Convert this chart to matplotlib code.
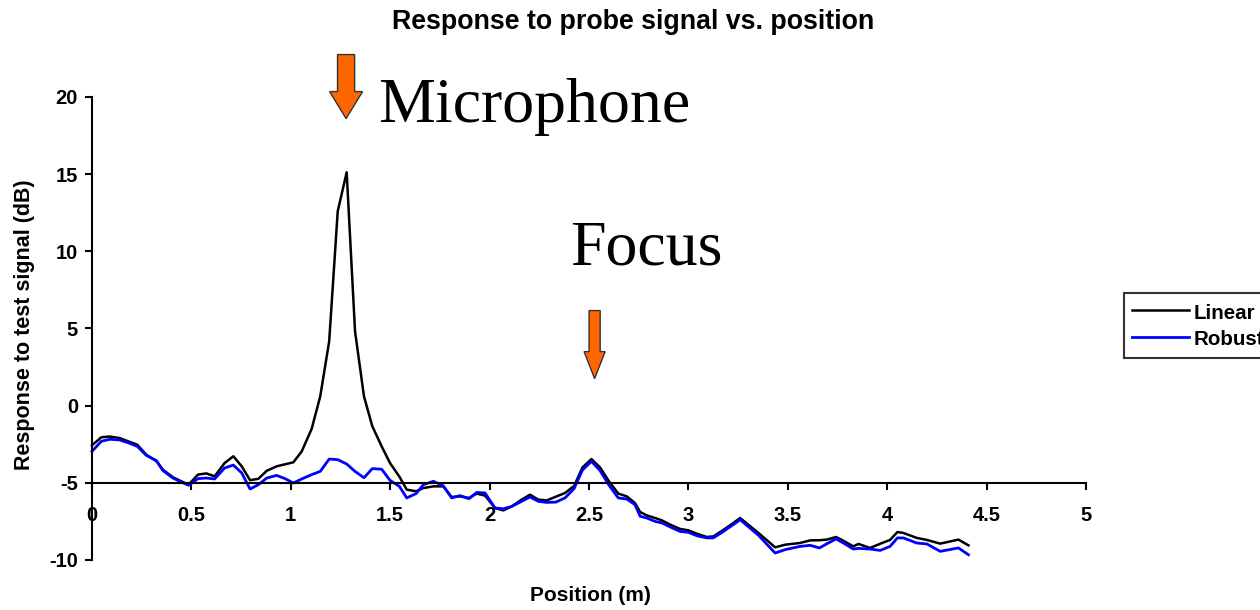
import matplotlib
matplotlib.use("Agg")
import matplotlib.pyplot as plt
from matplotlib.patches import Polygon

# ---- data ----
position = [0.0, 0.047, 0.089, 0.139, 0.19, 0.228, 0.273, 0.324, 0.357, 0.407,
            0.449, 0.486, 0.533, 0.575, 0.617, 0.667, 0.711, 0.753, 0.795, 0.837,
            0.879, 0.929, 0.971, 1.013, 1.055, 1.105, 1.148, 1.193, 1.236, 1.281,
            1.323, 1.368, 1.41, 1.457, 1.499, 1.546, 1.583, 1.63, 1.667, 1.717,
            1.767, 1.809, 1.851, 1.896, 1.935, 1.977, 2.027, 2.069, 2.111, 2.161,
            2.203, 2.245, 2.287, 2.333, 2.379, 2.425, 2.467, 2.512, 2.555, 2.6,
            2.647, 2.69, 2.731, 2.757, 2.79, 2.832, 2.866, 2.908, 2.958, 3.0,
            3.042, 3.092, 3.125, 3.17, 3.215, 3.26, 3.352, 3.436, 3.486, 3.561,
            3.612, 3.659, 3.696, 3.742, 3.779, 3.829, 3.855, 3.913, 3.964, 4.014,
            4.051, 4.081, 4.148, 4.199, 4.266, 4.358, 4.408]

linear = [-2.57, -2.05, -2.0, -2.1, -2.35, -2.53, -3.18, -3.6, -4.15, -4.64,
          -4.9, -5.12, -4.47, -4.39, -4.58, -3.72, -3.28, -3.93, -4.83, -4.74,
          -4.22, -3.93, -3.8, -3.67, -2.96, -1.5, 0.6, 4.17, 12.6, 15.12,
          4.82, 0.6, -1.34, -2.64, -3.72, -4.6, -5.44, -5.55, -5.34, -5.23,
          -5.23, -5.92, -5.88, -5.98, -5.7, -5.83, -6.63, -6.79, -6.53, -6.09,
          -5.77, -6.09, -6.14, -5.9, -5.66, -5.2, -4.0, -3.46, -4.0, -4.9,
          -5.7, -5.88, -6.31, -6.89, -7.11, -7.28, -7.43, -7.71, -7.99, -8.08,
          -8.3, -8.51, -8.47, -8.1, -7.7, -7.28, -8.25, -9.18, -9.01, -8.9,
          -8.73, -8.72, -8.68, -8.51, -8.75, -9.12, -8.96, -9.22, -8.95, -8.7,
          -8.19, -8.25, -8.57, -8.7, -8.94, -8.68, -9.05]

robust = [-2.96, -2.31, -2.18, -2.22, -2.44, -2.64, -3.22, -3.56, -4.21, -4.69,
          -4.95, -5.16, -4.73, -4.69, -4.75, -4.04, -3.85, -4.36, -5.4, -5.12,
          -4.69, -4.52, -4.73, -5.01, -4.75, -4.47, -4.26, -3.46, -3.5, -3.78,
          -4.26, -4.67, -4.08, -4.12, -4.84, -5.23, -5.98, -5.7, -5.12, -4.9,
          -5.2, -5.98, -5.83, -6.03, -5.62, -5.66, -6.63, -6.68, -6.53, -6.2,
          -5.92, -6.2, -6.27, -6.25, -5.98, -5.37, -4.17, -3.61, -4.2, -5.15,
          -5.98, -6.05, -6.42, -7.17, -7.28, -7.5, -7.6, -7.86, -8.15, -8.21,
          -8.43, -8.57, -8.57, -8.2, -7.8, -7.39, -8.4, -9.55, -9.33, -9.12,
          -9.05, -9.22, -8.95, -8.64, -8.9, -9.29, -9.25, -9.29, -9.38, -9.12,
          -8.57, -8.57, -8.9, -8.96, -9.44, -9.22, -9.66]

series_names = ["Linear", "Robust"]
x_ticks = [0, 0.5, 1, 1.5, 2, 2.5, 3, 3.5, 4, 4.5, 5]
x_tick_labels = ["0", "0.5", "1", "1.5", "2", "2.5", "3", "3.5", "4", "4.5", "5"]
y_ticks = [-10, -5, 0, 5, 10, 15, 20]
y_tick_labels = ["-10", "-5", "0", "5", "10", "15", "20"]

# ---- figure ----
plt.rcParams['font.family'] = ['Liberation Sans', 'DejaVu Sans']
fig = plt.figure(figsize=(12.6, 6.1), dpi=100)
ax = fig.add_axes([0.073, 0.082, 0.789, 0.759])

ax.plot(position, linear, color='black', lw=1.8, label=series_names[0], clip_on=False)
ax.plot(position, robust, color='#0000FF', lw=2.0, label=series_names[1], clip_on=False)

ax.set_xlim(0, 5)
ax.set_ylim(-10, 20)
ax.spines['top'].set_visible(False)
ax.spines['right'].set_visible(False)
ax.spines['bottom'].set_position(('data', -5))
ax.spines['left'].set_position(('data', 0))
for s in ('left', 'bottom'):
    ax.spines[s].set_linewidth(1.5)

ax.set_xticks(x_ticks)
ax.set_xticklabels(x_tick_labels, fontsize=14.5, fontweight='bold')
ax.set_yticks(y_ticks)
ax.set_yticklabels(y_tick_labels, fontsize=14.5, fontweight='bold')
ax.tick_params(axis='x', direction='out', length=5, width=1.5, pad=12)
ax.tick_params(axis='y', direction='out', length=5, width=1.5, pad=5)

ax.set_xlabel("Position (m)", fontsize=15, fontweight='bold')
ax.xaxis.set_label_coords(0.501, -0.056)
ax.set_ylabel("Response to test signal (dB)", fontsize=15.5, fontweight='bold')
ax.yaxis.set_label_coords(-0.057, 0.508)

fig.text(633 / 1260, 1 - 22 / 610, "Response to probe signal vs. position",
         ha='center', va='center', fontsize=19.3, fontweight='bold')

# annotations
fig.text(378 / 1260, 1 - 122 / 610, "Microphone", family='Liberation Serif',
         fontsize=46, ha='left', va='baseline')
fig.text(570 / 1260, 1 - 265 / 610, "Focus", family='Liberation Serif',
         fontsize=46, ha='left', va='baseline')

def arrow(xc, top, shaft_bottom, tip, half_shaft, half_head):
    pts = [(xc - half_shaft, top), (xc + half_shaft, top),
           (xc + half_shaft, shaft_bottom), (xc + half_head, shaft_bottom),
           (xc, tip), (xc - half_head, shaft_bottom),
           (xc - half_shaft, shaft_bottom)]
    ax.add_patch(Polygon(pts, closed=True, facecolor='#FF6600',
                         edgecolor='#333333', lw=1.0, clip_on=False, zorder=5))

arrow(1.278, 22.75, 20.35, 18.6, 0.043, 0.083)
arrow(2.528, 6.16, 3.5, 1.75, 0.028, 0.053)

leg = fig.legend(loc='upper left', bbox_to_anchor=(1124 / 1260, 1 - 293 / 610),
                 prop={'weight': 'bold', 'size': 14.8}, frameon=True, fancybox=False,
                 handlelength=2.75, handleheight=1.2, handletextpad=0.25,
                 borderpad=0.4, labelspacing=0.25, borderaxespad=0)
leg.get_frame().set_edgecolor('black')
leg.get_frame().set_linewidth(1.5)

fig.savefig("out.png", dpi=100)
